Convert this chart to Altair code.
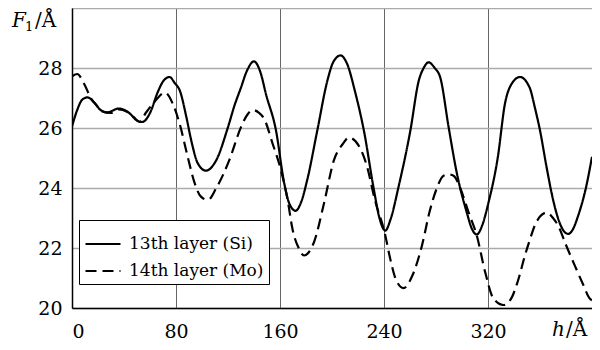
import altair as alt
import pandas as pd

SI = "13th layer (Si)"
MO = "14th layer (Mo)"

si_h = [0, 4, 8, 12, 17, 22, 27, 36, 44, 50, 54, 60, 66, 70, 75, 79, 83, 88, 91.7, 96.8,
        103, 111, 120, 125, 130, 134.5, 140, 145, 149.2, 156.9, 163.2, 167, 172, 176,
        181, 188.7, 196.4, 201, 206.6, 211, 218.2, 224.5, 232.2, 236.5, 241, 245,
        251.3, 260.3, 266.7, 270.5, 274.3, 279, 283.3, 289.7, 296, 303.7, 307.5,
        311.4, 315.5, 320.3, 327.6, 333, 338, 344.6, 352, 356, 360, 365, 370, 375,
        381.6, 385, 389.3, 395.6, 400]
si_f = [26.05, 26.6, 26.95, 27.02, 26.85, 26.6, 26.52, 26.65, 26.5, 26.25, 26.2, 26.5,
        27.2, 27.55, 27.7, 27.5, 27.24, 26.36, 25.59, 24.82,
        24.58, 24.93, 26.03, 26.75, 27.35, 27.9, 28.22, 27.85, 27.13, 25.92, 24.17, 23.5,
        23.24, 23.5, 24.28, 25.92, 27.57, 28.2, 28.42, 28.2, 27.13, 25.92, 23.95, 23.0,
        22.58, 22.95, 24.06, 25.92, 27.57, 28.0, 28.19, 28.0, 27.68, 26.03, 24.5, 23.18,
        22.65, 22.45, 22.75, 23.5, 25.04, 26.8, 27.46, 27.7, 27.35, 26.69, 25.92, 24.71,
        23.62, 22.85, 22.47, 22.6, 23.07, 24.06, 25.04]

mo_h = [0, 4, 9.5, 14.5, 19, 23.5, 30, 36, 42, 47.5, 52, 56.7, 64, 71.3, 77.6, 82.8,
        89, 94.3, 99, 104.5, 111, 121, 130, 135, 139, 144, 147.9, 154.3, 160.7, 165.8,
        169.6, 174.7, 178.5, 182, 186.2, 193.9, 201.5, 208, 213, 220.7, 227, 233,
        240.6, 245, 248.8, 255, 262, 269.2, 275, 280.7, 285.8, 290, 293.5, 298.6,
        305, 311.4, 317.8, 324, 331.8, 338, 343, 348.4, 352, 356, 360, 365, 370, 374,
        380, 386.7, 393, 398, 400]
mo_f = [27.72, 27.8, 27.46, 27.0, 26.75, 26.55, 26.5, 26.62, 26.55, 26.36, 26.2, 26.5,
        26.9, 27.18, 26.8, 26.14, 25.04, 24.17, 23.72, 23.6, 24.0, 24.93, 26.03, 26.45,
        26.6, 26.5, 26.3, 25.48, 24.6, 23.62, 22.63, 21.97, 21.75, 21.85, 22.2, 23.5,
        24.93, 25.45, 25.68, 25.4, 24.71, 23.6, 22.5, 21.6, 20.99, 20.66, 21.1, 22.08,
        23.2, 24.0, 24.41, 24.45, 24.41, 24.0, 23.2, 22.41, 21.2, 20.33, 20.1, 20.33,
        20.9, 21.75, 22.25, 22.75, 23.05, 23.18, 23.0, 22.74, 22.1, 21.42, 20.8, 20.33,
        20.25]

x_ticks = [0, 80, 160, 240, 320, 400]
y_ticks = [20, 22, 24, 26, 28, 30]

df = pd.concat([
    pd.DataFrame({"h": si_h, "F": si_f, "layer": SI}),
    pd.DataFrame({"h": mo_h, "F": mo_f, "layer": MO}),
])

FONT = "DejaVu Serif"

lines = alt.Chart(df).mark_line(color="black", strokeWidth=2.2, interpolate="monotone", clip=True).encode(
    x=alt.X("h:Q", scale=alt.Scale(domain=[0, 400], nice=False, zero=False),
            axis=alt.Axis(values=x_ticks, title=None, grid=True, gridColor="#666666", gridWidth=1,
                          labelExpr="datum.value == 400 ? '' : datum.label", tickSize=0,
                          labelPadding=14, domainColor="black", domainWidth=1.5,
                          labelFont=FONT, labelFontSize=19, labelColor="black")),
    y=alt.Y("F:Q", scale=alt.Scale(domain=[20, 30], nice=False, zero=False),
            axis=alt.Axis(values=y_ticks, title=None, grid=True, gridColor="#aaaaaa", gridWidth=1.5,
                          labelExpr="datum.value == 30 ? '' : datum.label", tickSize=0,
                          labelPadding=10, domainColor="black", domainWidth=1.5,
                          labelFont=FONT, labelFontSize=19, labelColor="black")),
    strokeDash=alt.StrokeDash("layer:N", scale=alt.Scale(domain=[SI, MO], range=[[1, 0], [11, 6]]),
                              legend=alt.Legend(title=None, orient="none", legendX=7, legendY=212,
                                                strokeColor="black", fillColor="white", padding=5,
                                                symbolType="stroke", symbolSize=1225,
                                                symbolStrokeWidth=2.2, symbolStrokeColor="black",
                                                labelFont=FONT, labelFontSize=17, labelColor="black",
                                                labelOffset=7, rowPadding=0)),
    order=alt.Order("h:Q"),
)

title_parts = pd.DataFrame({"t": ["F", "1", "/Å", "h", "/Å"]})

def piece(i, x, y, size, style):
    return alt.Chart(title_parts.iloc[[i]]).mark_text(
        font=FONT, fontSize=size, fontStyle=style, align="left", baseline="alphabetic", color="black"
    ).encode(text="t:N", x=alt.value(x), y=alt.value(y))

titles = [
    piece(0, -60, 19, 20, "italic"),
    piece(1, -47, 23, 13, "normal"),
    piece(2, -37, 19, 20, "normal"),
    piece(3, 480, 328, 20, "italic"),
    piece(4, 494, 328, 20, "normal"),
]

chart = alt.layer(lines, *titles).properties(
    width=520, height=300,
    autosize=alt.AutoSizeParams(type="none"),
    padding={"left": 64, "top": 0, "right": 0, "bottom": 34},
).configure_view(stroke=None)

chart.save("out.html", embed_options={"renderer": "svg", "actions": False})
